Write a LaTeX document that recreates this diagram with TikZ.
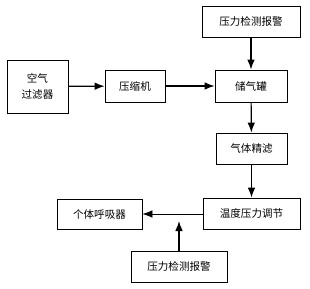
\documentclass[tikz,border=0pt]{standalone}
\usepackage{fontspec}
\newfontfamily\cjk{Noto Sans CJK SC}
\usetikzlibrary{arrows.meta,positioning}

\begin{document}
\begin{tikzpicture}[x=0.3mm,y=-0.3mm,>={Latex[length=3mm,width=2.3mm]},box/.style={draw,line width=0.8pt,align=center,font=\cjk\small,inner sep=0pt,minimum height=9.3mm},flow/.style={->,line width=1pt}]
\useasboundingbox (0,0) rectangle (310,289);
\node[box,minimum width=29.4mm] (alarmtop) at (251,21.5) {压力检测报警};
\node[box,minimum width=18.3mm,minimum height=15.9mm] (airfilter) at (37.5,86.5) {空气\\[1mm]过滤器};
\node[box,minimum width=18mm,minimum height=9.6mm] (compressor) at (135,86) {压缩机};
\node[box,minimum width=21.6mm,minimum height=9.6mm] (tank) at (251,86) {储气罐};
\node[box,minimum width=21.3mm] (refine) at (251.5,148.5) {气体精滤};
\node[box,minimum width=29.1mm] (regulator) at (251.5,213.5) {温度压力调节};
\node[box,minimum width=25.5mm,minimum height=9mm] (respirator) at (99.5,214) {个体呼吸器};
\node[box,minimum width=28.8mm] (alarmbot) at (179,266.5) {压力检测报警};
\coordinate (join) at (179,221);
\draw[flow] (airfilter)--(compressor); \draw[flow] (compressor)--(tank);
\draw[flow] (alarmtop)--(tank); \draw[flow] (tank)--(refine); \draw[flow] (refine)--(regulator);
\draw[->,line width=0.6pt] (regulator.west|-respirator)--(respirator);
\draw[flow] (alarmbot)--(join);
\end{tikzpicture}
\end{document}
